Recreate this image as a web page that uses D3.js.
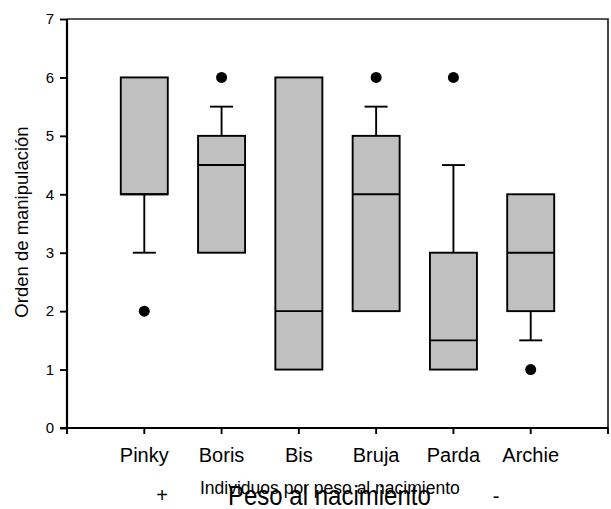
<!DOCTYPE html>
<html>
<head>
<meta charset="utf-8">
<script src="https://cdn.jsdelivr.net/npm/d3@7"></script>
<style>
  html, body { margin: 0; padding: 0; background: #fff; }
  svg { display: block; font-family: "Liberation Sans", Arial, sans-serif; }
</style>
</head>
<body>
<svg id="chart" width="611" height="509"></svg>
<script>
// Orden de manipulación por individuo (ordenados por peso al nacimiento)
const individuos  = ["Pinky", "Boris", "Bis", "Bruja", "Parda", "Archie"];
const cuartilInf  = [4, 3, 1, 2, 1, 2];
const mediana     = [4, 4.5, 2, 4, 1.5, 3];
const cuartilSup  = [6, 5, 6, 5, 3, 4];
const bigoteInf   = [3, 3, 1, 2, 1, 1.5];
const bigoteSup   = [6, 5.5, 6, 5.5, 4.5, 4];
const atipicos    = [[2], [6], [], [6], [6], [1]];
const yTicks      = [0, 1, 2, 3, 4, 5, 6, 7];

const svg = d3.select("#chart");
const plotLeft = 67, plotRight = 608, plotTop = 19, plotBottom = 428;
const sw = 1.9;

const x = d3.scalePoint().domain(individuos).range([plotLeft, plotRight]).padding(1);
const y = d3.scaleLinear().domain([0, 7]).range([plotBottom, plotTop]);

const boxW = 47, capW = 23;

// frame (top and right)
svg.append("path")
  .attr("d", `M${plotLeft},${plotTop}H${plotRight}V${plotBottom}`)
  .attr("fill", "none").attr("stroke", "#222").attr("stroke-width", 1.7);

// boxes
const g = svg.append("g");
individuos.forEach((name, i) => {
  const cx = x(name);
  // lower whisker
  if (bigoteInf[i] < cuartilInf[i]) {
    g.append("line").attr("x1", cx).attr("x2", cx)
      .attr("y1", y(cuartilInf[i])).attr("y2", y(bigoteInf[i]))
      .attr("stroke", "#000").attr("stroke-width", sw);
    g.append("line").attr("x1", cx - capW / 2).attr("x2", cx + capW / 2)
      .attr("y1", y(bigoteInf[i])).attr("y2", y(bigoteInf[i]))
      .attr("stroke", "#000").attr("stroke-width", sw);
  }
  // upper whisker
  if (bigoteSup[i] > cuartilSup[i]) {
    g.append("line").attr("x1", cx).attr("x2", cx)
      .attr("y1", y(cuartilSup[i])).attr("y2", y(bigoteSup[i]))
      .attr("stroke", "#000").attr("stroke-width", sw);
    g.append("line").attr("x1", cx - capW / 2).attr("x2", cx + capW / 2)
      .attr("y1", y(bigoteSup[i])).attr("y2", y(bigoteSup[i]))
      .attr("stroke", "#000").attr("stroke-width", sw);
  }
  // box
  g.append("rect")
    .attr("x", cx - boxW / 2).attr("width", boxW)
    .attr("y", y(cuartilSup[i])).attr("height", y(cuartilInf[i]) - y(cuartilSup[i]))
    .attr("fill", "#c0c0c0").attr("stroke", "#000").attr("stroke-width", sw);
  // median
  g.append("line").attr("x1", cx - boxW / 2).attr("x2", cx + boxW / 2)
    .attr("y1", y(mediana[i])).attr("y2", y(mediana[i]))
    .attr("stroke", "#000").attr("stroke-width", sw);
  // outliers
  atipicos[i].forEach(v => {
    g.append("circle").attr("cx", cx).attr("cy", y(v)).attr("r", 5.5).attr("fill", "#000");
  });
});

// y axis
const yAxis = svg.append("g").attr("transform", `translate(${plotLeft},0)`)
  .call(d3.axisLeft(y).tickValues(yTicks).tickFormat(d3.format("d")).tickSize(7).tickPadding(6));
yAxis.select(".domain").attr("stroke", "#000").attr("stroke-width", 2.2)
  .attr("d", `M0,${plotTop}V${plotBottom}`);
yAxis.selectAll(".tick line").attr("stroke", "#000").attr("stroke-width", sw);
yAxis.selectAll(".tick text").attr("font-size", "15px").attr("fill", "#000")
  .attr("font-family", "Liberation Sans, Arial, sans-serif");

// x axis: ticks at each individual plus both ends
const xEnds = d3.scaleLinear().domain([0, individuos.length + 1]).range([plotLeft, plotRight]);
const xAxisG = svg.append("g").attr("transform", `translate(0,${plotBottom})`);
xAxisG.append("line").attr("x1", plotLeft - 7).attr("x2", plotRight)
  .attr("stroke", "#000").attr("stroke-width", 2.2);
[xEnds(0), ...individuos.map(d => x(d)), xEnds(individuos.length + 1)].forEach(px => {
  xAxisG.append("line").attr("x1", px).attr("x2", px).attr("y1", 0).attr("y2", 6)
    .attr("stroke", "#000").attr("stroke-width", sw);
});
xAxisG.selectAll("text.cat").data(individuos).join("text")
  .attr("class", "cat")
  .attr("x", d => x(d)).attr("y", 34)
  .attr("text-anchor", "middle").attr("font-size", "20px").attr("fill", "#000")
  .text(d => d);

// y axis title
svg.append("text")
  .attr("transform", `translate(28,222) rotate(-90)`)
  .attr("text-anchor", "middle").attr("font-size", "18.5px").attr("fill", "#000")
  .text("Orden de manipulación");

// x axis titles
svg.append("text").attr("x", 200).attr("y", 494)
  .attr("font-size", "17.5px").attr("fill", "#000")
  .text("Individuos por peso al nacimiento");
svg.append("text")
  .attr("transform", "translate(228,505) scale(1,1.15)")
  .attr("font-size", "24px").attr("fill", "#000")
  .text("Peso al nacimiento");
svg.append("text").attr("x", 162).attr("y", 502)
  .attr("text-anchor", "middle").attr("font-size", "20px").attr("fill", "#000")
  .text("+");
svg.append("text").attr("x", 496).attr("y", 503)
  .attr("text-anchor", "middle").attr("font-size", "20px").attr("fill", "#000")
  .text("-");
</script>
</body>
</html>
